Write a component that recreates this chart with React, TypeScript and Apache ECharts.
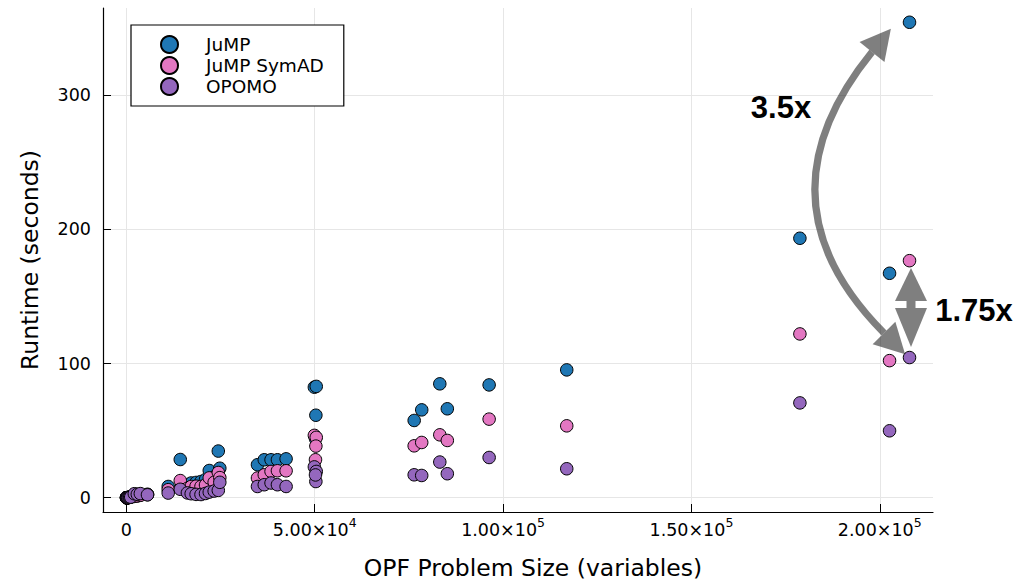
import React, { useEffect, useRef } from "react";
import * as echarts from "echarts";

// OPF problem sizes (number of variables), one entry per test case
const sizes = [
  24, 62, 150, 290, 430, 700, 900, 1150, 2100, 2900, 3700, 5600,
  11100, 14300, 16200, 17200, 18500, 19800, 21000, 22000, 23300, 24400, 24800,
  34800, 36600, 38400, 40100, 42400,
  49900, 50400, 50300, 50200,
  76400, 78400, 83200, 85200, 96300, 116900, 178800, 202600, 207900,
];

// Runtime (seconds)
const jumpRuntime = [
  0.02, 0.03, 0.06, 0.1, 0.15, 0.3, 0.45, 0.6, 1.1, 1.5, 2.0, 2.6,
  8.4, 28.5, 9.5, 11.0, 11.4, 12.1, 13.5, 20.3, 15.5, 34.8, 22.0,
  24.6, 28.3, 28.3, 28.3, 29.0,
  82.4, 83.0, 61.5, 44.0,
  57.6, 65.5, 84.9, 66.3, 84.1, 95.3, 193.4, 167.3, 354.4,
];
const symadRuntime = [
  0.02, 0.03, 0.05, 0.08, 0.12, 0.25, 0.4, 0.5, 1.0, 1.3, 1.8, 2.3,
  6.0, 12.8, 7.0, 8.4, 8.6, 8.4, 9.5, 14.8, 11.5, 18.8, 15.0,
  14.7, 17.1, 19.6, 20.1, 20.1,
  46.5, 45.0, 38.5, 28.3,
  38.7, 41.2, 46.9, 42.7, 58.6, 53.6, 122.1, 102.2, 176.7,
];
const opomoRuntime = [
  0.01, 0.02, 0.04, 0.07, 0.1, 0.2, 0.35, 0.45, 3.0, 2.6, 3.1, 2.2,
  3.5, 6.3, 3.6, 3.0, 2.5, 2.4, 3.2, 4.2, 5.0, 5.5, 11.5,
  8.4, 9.7, 11.0, 9.7, 8.4,
  23.0, 19.6, 12.1, 17.0,
  17.1, 16.6, 26.6, 17.9, 30.0, 21.6, 70.7, 49.9, 104.5,
];

const seriesNames = ["JuMP", "JuMP SymAD", "OPOMO"];
const seriesColors = ["#1f77b4", "#e377c2", "#9467bd"];
const xTickValues = [0, 50000, 100000, 150000, 200000];
const yTickValues = [0, 100, 200, 300];

const FONT = "DejaVu Sans";

function padExtent(vals: number[]) {
  const lo = Math.min(...vals);
  const hi = Math.max(...vals);
  const m = (hi - lo) * 0.03;
  return [lo - m, hi + m];
}

function sciLabel(v: number) {
  if (v === 0) return "{b|0}";
  const e = Math.floor(Math.log10(Math.abs(v)));
  const m = v / Math.pow(10, e);
  return `{b|${m.toFixed(2)}×10}{sup|${e}}`;
}

function arrowHead(tip: number[], base: number[], halfW: number) {
  const dx = tip[0] - base[0];
  const dy = tip[1] - base[1];
  const len = Math.hypot(dx, dy);
  const px = -dy / len;
  const py = dx / len;
  return [
    tip,
    [base[0] + px * halfW, base[1] + py * halfW],
    [base[0] - px * halfW, base[1] - py * halfW],
  ];
}

export default function App() {
  const ref = useRef<HTMLDivElement>(null);

  useEffect(() => {
    if (!ref.current) return;
    const chart = echarts.init(ref.current, undefined, { renderer: "svg" });
    const [xMin, xMax] = padExtent(sizes);
    const [yMin, yMax] = padExtent([...jumpRuntime, ...symadRuntime, ...opomoRuntime]);
    const runtimes = [jumpRuntime, symadRuntime, opomoRuntime];

    // curved 3.5x arrow geometry (pixels)
    const c0 = [872, 52];
    const c2 = [884, 333];
    const cp = [752, 200];
    const L = 30;
    const d0 = [c0[0] - cp[0], c0[1] - cp[1]];
    const n0 = Math.hypot(d0[0], d0[1]);
    const tip0 = [c0[0] + (d0[0] / n0) * L, c0[1] + (d0[1] / n0) * L];
    const d2 = [c2[0] - cp[0], c2[1] - cp[1]];
    const n2 = Math.hypot(d2[0], d2[1]);
    const tip2 = [c2[0] + (d2[0] / n2) * L, c2[1] + (d2[1] / n2) * L];
    const arrowFill = "rgba(0,0,0,0.5)";

    chart.setOption({
      animation: false,
      backgroundColor: "#fff",
      grid: { left: 103, right: 86, top: 8, bottom: 70, containLabel: false, outerBoundsMode: "none" },
      xAxis: {
        type: "value",
        min: xMin,
        max: xMax,
        name: "OPF Problem Size (variables)",
        nameLocation: "middle",
        nameGap: 44,
        nameTextStyle: { fontSize: 23.5, fontFamily: FONT, color: "#000", padding: [0, 0, 0, 30] },
        axisLine: { show: true, onZero: false, lineStyle: { color: "#000", width: 1.2 } },
        axisTick: { show: true, inside: true, length: 8, customValues: xTickValues, lineStyle: { color: "#000", width: 1 } },
        axisLabel: {
          customValues: xTickValues,
          margin: 7,
          formatter: (v: number) => sciLabel(v),
          rich: {
            b: { fontSize: 17.5, fontFamily: FONT, color: "#000", lineHeight: 20, verticalAlign: "bottom" },
            sup: { fontSize: 12.5, fontFamily: FONT, color: "#000", lineHeight: 13, verticalAlign: "bottom", padding: [0, 0, 10, 0] },
          },
        },
        splitLine: { show: true, lineStyle: { color: "#e6e6e6", width: 1 } },
      },
      yAxis: {
        type: "value",
        min: yMin,
        max: yMax,
        name: "Runtime (seconds)",
        nameLocation: "middle",
        nameGap: 61,
        nameTextStyle: { fontSize: 23.5, fontFamily: FONT, color: "#000" },
        axisLine: { show: true, onZero: false, lineStyle: { color: "#000", width: 1.2 } },
        axisTick: { show: true, inside: true, length: 8, customValues: yTickValues, lineStyle: { color: "#000", width: 1 } },
        axisLabel: { customValues: yTickValues, margin: 12, fontSize: 17.5, fontFamily: FONT, color: "#000" },
        splitLine: { show: true, lineStyle: { color: "#e6e6e6", width: 1 } },
      },
      legend: {
        orient: "vertical",
        left: 131,
        top: 25,
        padding: [10, 20, 10, 29],
        itemGap: 2,
        itemWidth: 17,
        itemHeight: 17,
        icon: "circle",
        borderColor: "#000",
        borderWidth: 1.2,
        borderRadius: 0,
        backgroundColor: "#fff",
        formatter: (name: string) => `{t|${name}}`,
        textStyle: {
          fontSize: 18.5,
          fontFamily: FONT,
          color: "#000",
          rich: { t: { fontSize: 18.5, fontFamily: FONT, color: "#000", padding: [0, 0, 0, 23], lineHeight: 18 } },
        },
        data: seriesNames,
      },
      series: seriesNames.map((name, i) => ({
        name,
        type: "scatter",
        symbol: "circle",
        symbolSize: 12.5,
        itemStyle: { color: seriesColors[i], borderColor: "#000", borderWidth: 1, opacity: 1 },
        data: sizes.map((s, k) => [s, runtimes[i][k]]),
        z: 2 + i,
      })),
      graphic: [
        {
          type: "bezierCurve",
          z: 100,
          shape: { x1: c0[0], y1: c0[1], x2: c2[0], y2: c2[1], cpx1: cp[0], cpy1: cp[1] },
          style: { stroke: arrowFill, lineWidth: 7, fill: null, lineCap: "butt" },
        },
        { type: "polygon", z: 100, shape: { points: arrowHead(tip0, c0, 16) }, style: { fill: arrowFill } },
        { type: "polygon", z: 100, shape: { points: arrowHead(tip2, c2, 16) }, style: { fill: arrowFill } },
        { type: "polygon", z: 100, shape: { points: [[911, 268], [895, 301], [927, 301]] }, style: { fill: arrowFill } },
        { type: "rect", z: 100, shape: { x: 906.5, y: 301, width: 9, height: 7 }, style: { fill: arrowFill } },
        { type: "polygon", z: 100, shape: { points: [[911, 347], [895, 308], [927, 308]] }, style: { fill: arrowFill } },
        {
          type: "text",
          z: 101,
          x: 781,
          y: 107,
          style: { text: "3.5x", font: "bold 31px 'Liberation Sans', Arial, sans-serif", fill: "#000", align: "center", verticalAlign: "middle", textAlign: "center", textVerticalAlign: "middle" },
        },
        {
          type: "text",
          z: 101,
          x: 974,
          y: 310,
          style: { text: "1.75x", font: "bold 31px 'Liberation Sans', Arial, sans-serif", fill: "#000", align: "center", verticalAlign: "middle", textAlign: "center", textVerticalAlign: "middle" },
        },
      ],
    });
    return () => chart.dispose();
  }, []);

  return (
    <div
      ref={ref}
      style={{ position: "fixed", left: 0, top: 0, width: 1019, height: 582, background: "#fff" }}
    />
  );
}
